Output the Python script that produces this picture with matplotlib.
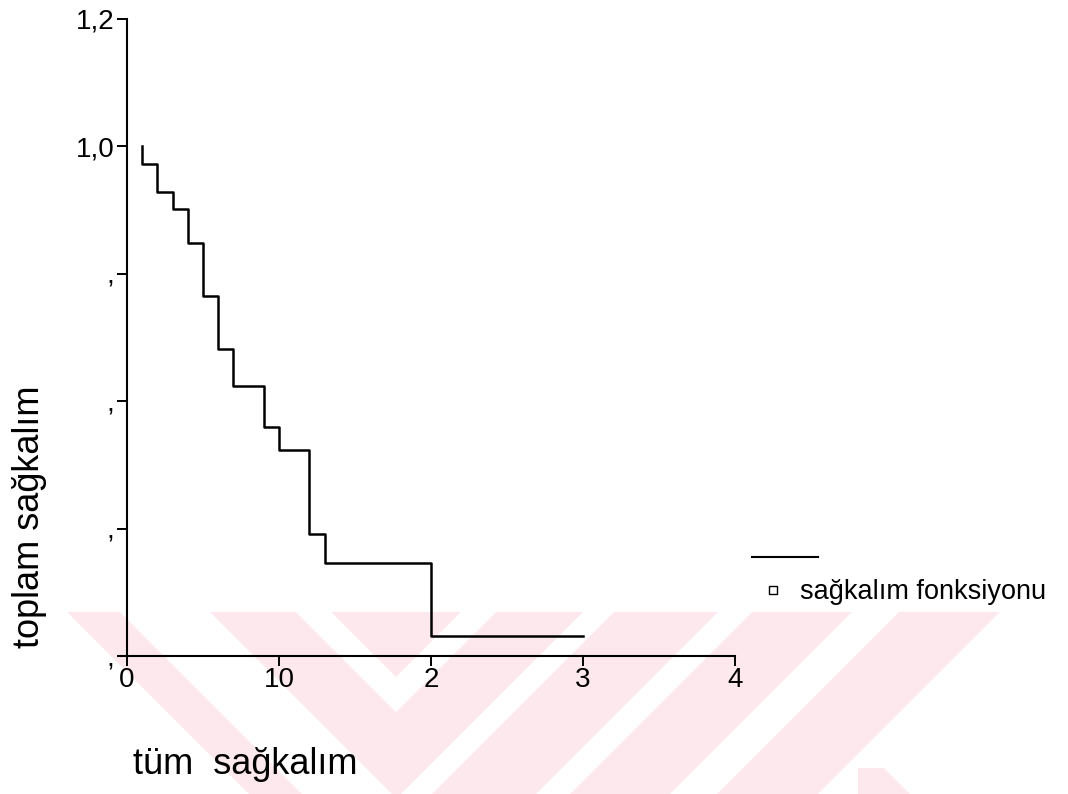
import numpy as np
import matplotlib
matplotlib.use("Agg")
import matplotlib.pyplot as plt
import matplotlib.lines as mlines
import matplotlib.patches as mpatches

# %% Data

times = [1, 1, 2, 3, 4, 5, 6, 7, 9, 10, 12, 13, 20, 30]
survival = [1.0, 0.972, 0.929, 0.901, 0.849, 0.765, 0.682, 0.624,
            0.559, 0.524, 0.392, 0.346, 0.231, 0.231]

xticks = [0, 10, 20, 30, 40]
xtick_labels = ["0", "10", "2", "3", "4"]
yticks = [0.2, 0.4, 0.6, 0.8, 1.0, 1.2]
ytick_labels = [",", ",", ",", ",", "1,0", "1,2"]

W, H = 1068, 794
lw = 1.8


def px(x, y):
    """Pixel position (from top-left) to figure fraction."""
    return x / W, 1 - y / H


# %% Main

plt.rcParams["font.family"] = ["Liberation Sans", "DejaVu Sans"]

fig = plt.figure(figsize=(W / 100, H / 100), dpi=100)

# %% Watermark (faint pink slanted strokes of the scan), in pixel space

bg = fig.add_axes([0, 0, 1, 1], zorder=-1)
bg.set_xlim(0, W)
bg.set_ylim(H, 0)
bg.set_axis_off()

pink = "#fde9ed"
top, bot = 612, 794
base = [(67, top), (1000, top), (818, bot), (249, bot)]
bg.add_patch(mpatches.Polygon(base, facecolor=pink, edgecolor="none"))
bg.add_patch(mpatches.Polygon([(858, 768), (884, 768), (910, bot), (858, bot)],
                              facecolor=pink, edgecolor="none"))
gaps = [
    [(120, top), (210, top), (392, bot), (302, bot)],
    [(296, top), (331, top), (396, 677), (461, top), (496, top), (396, 712)],
    [(583, top), (614, top), (432, bot), (401, bot)],
    [(718, top), (752, top), (570, bot), (536, bot)],
    [(852, top), (899, top), (717, bot), (670, bot)],
]
for g in gaps:
    bg.add_patch(mpatches.Polygon(g, facecolor="white", edgecolor="none"))

# %% Survival curve

l, b = px(127, 656)
r, t = px(735, 19)
ax = fig.add_axes([l, b, r - l, t - b])
ax.patch.set_alpha(0)

ax.plot(times, survival, drawstyle="steps-post", color="black", linewidth=lw)

ax.set_xlim(0, 40)
ax.set_ylim(0.2, 1.2)
ax.set_xticks(xticks)
ax.set_xticklabels(xtick_labels)
ax.set_yticks(yticks)
ax.set_yticklabels(ytick_labels)

for side in ["top", "right"]:
    ax.spines[side].set_visible(False)
for side in ["left", "bottom"]:
    ax.spines[side].set_linewidth(1.5)
ax.spines["bottom"].set_bounds(-0.5, 40)
ax.tick_params(axis="both", direction="out", length=7, width=1.4,
               labelsize=20, colors="black")
ax.tick_params(axis="x", pad=1)
ax.tick_params(axis="y", pad=2)

# axis labels
fig.text(*px(133, 765), "tüm  sağkalım", fontsize=26, ha="left", va="center")
fig.text(*px(30, 517), "toplam sağkalım", fontsize=26, rotation=90,
         ha="center", va="center")

# hand-made legend: line on one row, marker and label below
x0, y0 = px(752, 557)
x1, _ = px(818, 557)
fig.lines.append(mlines.Line2D([x0, x1], [y0, y0], transform=fig.transFigure,
                               color="black", linewidth=1.5))
mx, my = px(773, 590)
fig.lines.append(mlines.Line2D([mx], [my], transform=fig.transFigure,
                               marker="s", markersize=6,
                               markerfacecolor="white",
                               markeredgecolor="black", markeredgewidth=1.0,
                               linestyle=""))
fig.text(*px(800, 592), "sağkalım fonksiyonu", fontsize=19.5,
         ha="left", va="center")

fig.savefig("out.png", dpi=100)
